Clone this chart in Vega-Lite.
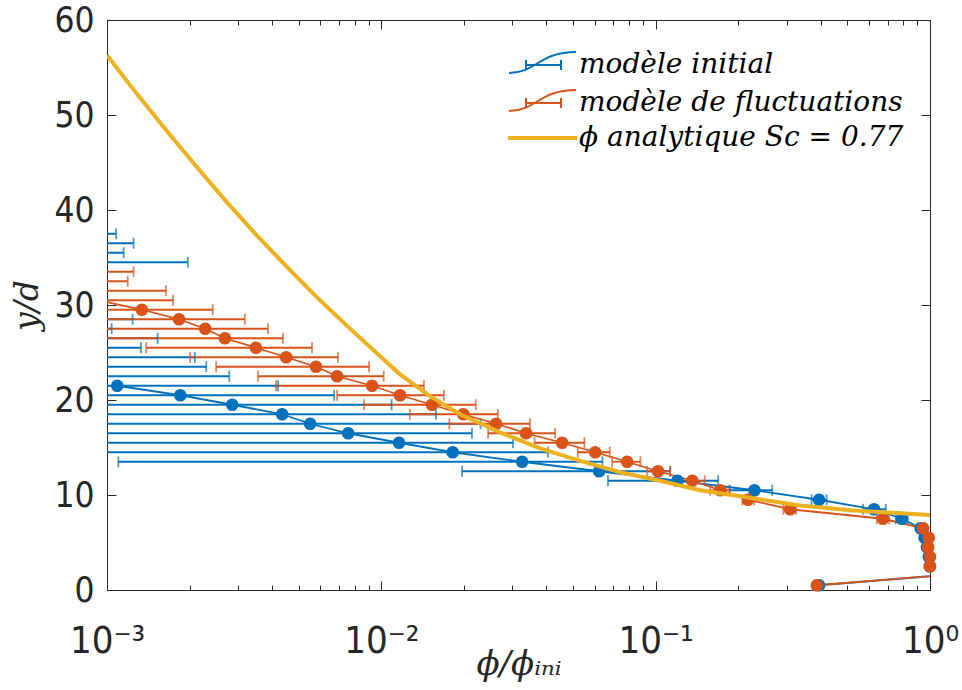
{
  "$schema": "https://vega.github.io/schema/vega-lite/v6.json",
  "width": 823,
  "height": 570,
  "autosize": {"type": "none"},
  "padding": {"left": 107, "top": 20, "right": 32, "bottom": 100},
  "background": "white",
  "config": {
    "view": {"stroke": null},
    "axis": {"grid": false, "domainColor": "#262626", "tickColor": "#262626", "labelColor": "#262626", "titleColor": "#262626", "domainWidth": 1, "tickWidth": 1, "labelFont": "Liberation Sans Narrow, DejaVu Sans Condensed, DejaVu Sans", "labelFontSize": 35}
  },
  "datasets": {
    "bars": [
      {"series": "modèle initial", "y": 37.5, "x": null, "lo": 0.0001, "hi": 0.00108},
      {"series": "modèle initial", "y": 36.5, "x": null, "lo": 0.0001, "hi": 0.00125},
      {"series": "modèle initial", "y": 35.5, "x": null, "lo": 0.0001, "hi": 0.00115},
      {"series": "modèle initial", "y": 34.5, "x": null, "lo": 0.0001, "hi": 0.00197},
      {"series": "modèle initial", "y": 28.5, "x": null, "lo": 0.0001, "hi": 0.00124},
      {"series": "modèle initial", "y": 27.5, "x": null, "lo": 0.0001, "hi": 0.00104},
      {"series": "modèle initial", "y": 26.5, "x": null, "lo": 0.0001, "hi": 0.00153},
      {"series": "modèle initial", "y": 25.5, "x": null, "lo": 0.0001, "hi": 0.00133},
      {"series": "modèle initial", "y": 24.5, "x": null, "lo": 0.0001, "hi": 0.00209},
      {"series": "modèle initial", "y": 23.5, "x": null, "lo": 0.0001, "hi": 0.0023},
      {"series": "modèle initial", "y": 22.5, "x": null, "lo": 0.0001, "hi": 0.00279},
      {"series": "modèle initial", "y": 21.5, "x": 0.00109, "lo": 0.0001, "hi": 0.0042},
      {"series": "modèle initial", "y": 20.5, "x": 0.00185, "lo": 0.0001, "hi": 0.00673},
      {"series": "modèle initial", "y": 19.5, "x": 0.00286, "lo": 0.0001, "hi": 0.0109},
      {"series": "modèle initial", "y": 18.5, "x": 0.00435, "lo": 0.0001, "hi": 0.0158},
      {"series": "modèle initial", "y": 17.5, "x": 0.0055, "lo": 0.0001, "hi": 0.023},
      {"series": "modèle initial", "y": 16.5, "x": 0.00757, "lo": 0.0001, "hi": 0.0214},
      {"series": "modèle initial", "y": 15.5, "x": 0.0116, "lo": 0.0001, "hi": 0.0302},
      {"series": "modèle initial", "y": 14.5, "x": 0.0182, "lo": 0.0001, "hi": 0.0405},
      {"series": "modèle initial", "y": 13.5, "x": 0.0326, "lo": 0.0011, "hi": 0.064},
      {"series": "modèle initial", "y": 12.5, "x": 0.0622, "lo": 0.0197, "hi": 0.113},
      {"series": "modèle initial", "y": 11.5, "x": 0.12, "lo": 0.067, "hi": 0.169},
      {"series": "modèle initial", "y": 10.5, "x": 0.229, "lo": 0.186, "hi": 0.266},
      {"series": "modèle initial", "y": 9.5, "x": 0.394, "lo": 0.37, "hi": 0.42},
      {"series": "modèle initial", "y": 8.5, "x": 0.625, "lo": 0.57, "hi": 0.69},
      {"series": "modèle initial", "y": 7.5, "x": 0.79, "lo": 0.75, "hi": 0.83},
      {"series": "modèle initial", "y": 6.5, "x": 0.925, "lo": 0.9, "hi": 0.95},
      {"series": "modèle initial", "y": 5.5, "x": 0.955, "lo": 0.94, "hi": 0.97},
      {"series": "modèle initial", "y": 4.5, "x": 0.975, "lo": 0.965, "hi": 0.985},
      {"series": "modèle initial", "y": 3.5, "x": 0.99, "lo": 0.985, "hi": 0.995},
      {"series": "modèle initial", "y": 2.5, "x": 0.998, "lo": 0.996, "hi": 1.0},
      {"series": "modèle initial", "y": 1.5, "x": 1.05, "lo": 1.04, "hi": 1.06},
      {"series": "modèle initial", "y": 0.5, "x": 0.394, "lo": 0.39, "hi": 0.4},
      {"series": "modèle de fluctuations", "y": 33.5, "x": null, "lo": 0.0001, "hi": 0.00125},
      {"series": "modèle de fluctuations", "y": 32.5, "x": null, "lo": 0.0001, "hi": 0.00119},
      {"series": "modèle de fluctuations", "y": 31.5, "x": null, "lo": 0.0001, "hi": 0.00164},
      {"series": "modèle de fluctuations", "y": 30.5, "x": 0.00093, "lo": 0.0001, "hi": 0.00174},
      {"series": "modèle de fluctuations", "y": 29.5, "x": 0.00134, "lo": 0.0001, "hi": 0.00243},
      {"series": "modèle de fluctuations", "y": 28.5, "x": 0.00183, "lo": 0.0001, "hi": 0.00318},
      {"series": "modèle de fluctuations", "y": 27.5, "x": 0.00228, "lo": 0.0001, "hi": 0.00386},
      {"series": "modèle de fluctuations", "y": 26.5, "x": 0.00269, "lo": 0.0001, "hi": 0.00438},
      {"series": "modèle de fluctuations", "y": 25.5, "x": 0.00349, "lo": 0.00139, "hi": 0.00559},
      {"series": "modèle de fluctuations", "y": 24.5, "x": 0.0045, "lo": 0.00201, "hi": 0.00695},
      {"series": "modèle de fluctuations", "y": 23.5, "x": 0.00578, "lo": 0.0025, "hi": 0.00902},
      {"series": "modèle de fluctuations", "y": 22.5, "x": 0.0069, "lo": 0.00355, "hi": 0.0102},
      {"series": "modèle de fluctuations", "y": 21.5, "x": 0.00925, "lo": 0.00413, "hi": 0.0143},
      {"series": "modèle de fluctuations", "y": 20.5, "x": 0.0117, "lo": 0.0069, "hi": 0.0169},
      {"series": "modèle de fluctuations", "y": 19.5, "x": 0.0153, "lo": 0.00865, "hi": 0.0221},
      {"series": "modèle de fluctuations", "y": 18.5, "x": 0.0199, "lo": 0.0127, "hi": 0.0266},
      {"series": "modèle de fluctuations", "y": 17.5, "x": 0.0262, "lo": 0.0177, "hi": 0.0348},
      {"series": "modèle de fluctuations", "y": 16.5, "x": 0.0337, "lo": 0.0245, "hi": 0.043},
      {"series": "modèle de fluctuations", "y": 15.5, "x": 0.0456, "lo": 0.0362, "hi": 0.055},
      {"series": "modèle de fluctuations", "y": 14.5, "x": 0.0602, "lo": 0.052, "hi": 0.068},
      {"series": "modèle de fluctuations", "y": 13.5, "x": 0.0787, "lo": 0.0694, "hi": 0.088},
      {"series": "modèle de fluctuations", "y": 12.5, "x": 0.102, "lo": 0.093, "hi": 0.113},
      {"series": "modèle de fluctuations", "y": 11.5, "x": 0.136, "lo": 0.123, "hi": 0.151},
      {"series": "modèle de fluctuations", "y": 10.5, "x": 0.172, "lo": 0.158, "hi": 0.186},
      {"series": "modèle de fluctuations", "y": 9.5, "x": 0.217, "lo": 0.207, "hi": 0.229},
      {"series": "modèle de fluctuations", "y": 8.5, "x": 0.309, "lo": 0.292, "hi": 0.325},
      {"series": "modèle de fluctuations", "y": 7.5, "x": 0.674, "lo": 0.64, "hi": 0.71},
      {"series": "modèle de fluctuations", "y": 6.5, "x": 0.944, "lo": 0.93, "hi": 0.96},
      {"series": "modèle de fluctuations", "y": 5.5, "x": 0.99, "lo": 0.985, "hi": 0.995},
      {"series": "modèle de fluctuations", "y": 4.5, "x": 0.985, "lo": 0.98, "hi": 0.99},
      {"series": "modèle de fluctuations", "y": 3.5, "x": 1.0, "lo": 0.998, "hi": 1.0},
      {"series": "modèle de fluctuations", "y": 2.5, "x": 1.0, "lo": 0.998, "hi": 1.0},
      {"series": "modèle de fluctuations", "y": 1.5, "x": 1.05, "lo": 1.04, "hi": 1.06},
      {"series": "modèle de fluctuations", "y": 0.5, "x": 0.387, "lo": 0.383, "hi": 0.391}
    ],
    "curve": [
      {"series": "ϕ analytique Sc = 0.77", "x": 0.001, "y": 56.3},
      {"series": "ϕ analytique Sc = 0.77", "x": 0.001287, "y": 52.2},
      {"series": "ϕ analytique Sc = 0.77", "x": 0.001655, "y": 48.3},
      {"series": "ϕ analytique Sc = 0.77", "x": 0.002128, "y": 44.5},
      {"series": "ϕ analytique Sc = 0.77", "x": 0.002738, "y": 40.8},
      {"series": "ϕ analytique Sc = 0.77", "x": 0.003522, "y": 37.3},
      {"series": "ϕ analytique Sc = 0.77", "x": 0.004532, "y": 34.0},
      {"series": "ϕ analytique Sc = 0.77", "x": 0.005829, "y": 30.8},
      {"series": "ϕ analytique Sc = 0.77", "x": 0.0075, "y": 27.8},
      {"series": "ϕ analytique Sc = 0.77", "x": 0.00965, "y": 24.9},
      {"series": "ϕ analytique Sc = 0.77", "x": 0.0117, "y": 22.7},
      {"series": "ϕ analytique Sc = 0.77", "x": 0.01505, "y": 20.4},
      {"series": "ϕ analytique Sc = 0.77", "x": 0.01936, "y": 18.5},
      {"series": "ϕ analytique Sc = 0.77", "x": 0.02709, "y": 16.6},
      {"series": "ϕ analytique Sc = 0.77", "x": 0.03791, "y": 14.9},
      {"series": "ϕ analytique Sc = 0.77", "x": 0.05302, "y": 13.6},
      {"series": "ϕ analytique Sc = 0.77", "x": 0.07418, "y": 12.4},
      {"series": "ϕ analytique Sc = 0.77", "x": 0.1038, "y": 11.5},
      {"series": "ϕ analytique Sc = 0.77", "x": 0.1452, "y": 10.5},
      {"series": "ϕ analytique Sc = 0.77", "x": 0.2208, "y": 9.7},
      {"series": "ϕ analytique Sc = 0.77", "x": 0.336, "y": 8.9},
      {"series": "ϕ analytique Sc = 0.77", "x": 0.5114, "y": 8.4},
      {"series": "ϕ analytique Sc = 0.77", "x": 1.0, "y": 7.9}
    ]
  },
  "resolve": {"axis": {"x": "independent", "y": "independent"}},
  "layer": [
    {
      "data": {"name": "bars"},
      "mark": {"type": "rule", "clip": true, "strokeWidth": 1.8},
      "encoding": {
        "x": {"field": "lo", "type": "quantitative", "scale": {"type": "log", "domain": [0.001, 1], "nice": false},
              "axis": {"orient": "top", "values": [0.001, 0.01, 0.1, 1], "labels": false, "tickSize": -9, "title": null}},
        "x2": {"field": "hi"},
        "y": {"field": "y", "type": "quantitative", "scale": {"domain": [0, 60], "nice": false, "zero": false},
              "axis": {"orient": "right", "values": [0, 10, 20, 30, 40, 50, 60], "labels": false, "tickSize": -9, "title": null}},
        "color": {"field": "series", "type": "nominal", "legend": null,
                  "scale": {"domain": ["ϕ analytique Sc = 0.77", "modèle initial", "modèle de fluctuations"], "range": ["#EDB120", "#0072BD", "#D95319"]}}
      }
    },
    {
      "data": {"name": "bars"},
      "mark": {"type": "tick", "clip": true, "orient": "vertical", "size": 11, "thickness": 1.8},
      "encoding": {
        "x": {"field": "lo", "type": "quantitative", "scale": {"type": "log", "domain": [0.001, 1], "nice": false},
              "axis": {"orient": "bottom", "values": [0.002, 0.003, 0.004, 0.005, 0.006, 0.007, 0.008, 0.009, 0.02, 0.03, 0.04, 0.05, 0.06, 0.07, 0.08, 0.09, 0.2, 0.3, 0.4, 0.5, 0.6, 0.7, 0.8, 0.9], "labels": false, "tickSize": -5, "domain": false, "title": null}},
        "y": {"field": "y", "type": "quantitative", "scale": {"domain": [0, 60], "nice": false, "zero": false}, "axis": null},
        "color": {"field": "series", "type": "nominal", "legend": null,
                  "scale": {"domain": ["ϕ analytique Sc = 0.77", "modèle initial", "modèle de fluctuations"], "range": ["#EDB120", "#0072BD", "#D95319"]}}
      }
    },
    {
      "data": {"name": "bars"},
      "mark": {"type": "tick", "clip": true, "orient": "vertical", "size": 11, "thickness": 1.8},
      "encoding": {
        "x": {"field": "hi", "type": "quantitative", "scale": {"type": "log", "domain": [0.001, 1], "nice": false},
              "axis": {"orient": "top", "values": [0.002, 0.003, 0.004, 0.005, 0.006, 0.007, 0.008, 0.009, 0.02, 0.03, 0.04, 0.05, 0.06, 0.07, 0.08, 0.09, 0.2, 0.3, 0.4, 0.5, 0.6, 0.7, 0.8, 0.9], "labels": false, "tickSize": -5, "domain": false, "title": null}},
        "y": {"field": "y", "type": "quantitative", "scale": {"domain": [0, 60], "nice": false, "zero": false}, "axis": null},
        "color": {"field": "series", "type": "nominal", "legend": null,
                  "scale": {"domain": ["ϕ analytique Sc = 0.77", "modèle initial", "modèle de fluctuations"], "range": ["#EDB120", "#0072BD", "#D95319"]}}
      }
    },
    {
      "data": {"name": "bars"},
      "transform": [{"filter": "datum.x != null"}],
      "mark": {"type": "line", "clip": true, "strokeWidth": 1.8},
      "encoding": {
        "x": {"field": "x", "type": "quantitative", "scale": {"type": "log", "domain": [0.001, 1], "nice": false}, "axis": null},
        "y": {"field": "y", "type": "quantitative", "scale": {"domain": [0, 60], "nice": false, "zero": false}, "axis": null},
        "order": {"field": "y", "type": "quantitative"},
        "color": {"field": "series", "type": "nominal", "legend": null,
                  "scale": {"domain": ["ϕ analytique Sc = 0.77", "modèle initial", "modèle de fluctuations"], "range": ["#EDB120", "#0072BD", "#D95319"]}}
      }
    },
    {
      "data": {"name": "bars"},
      "transform": [{"filter": "datum.x != null && datum.x >= 0.001 && datum.x <= 1"}],
      "mark": {"type": "point", "filled": true, "shape": "circle", "size": 160, "opacity": 1},
      "encoding": {
        "x": {"field": "x", "type": "quantitative", "scale": {"type": "log", "domain": [0.001, 1], "nice": false}, "axis": null},
        "y": {"field": "y", "type": "quantitative", "scale": {"domain": [0, 60], "nice": false, "zero": false}, "axis": null},
        "color": {"field": "series", "type": "nominal", "legend": null,
                  "scale": {"domain": ["ϕ analytique Sc = 0.77", "modèle initial", "modèle de fluctuations"], "range": ["#EDB120", "#0072BD", "#D95319"]}}
      }
    },
    {
      "data": {"name": "bars"},
      "transform": [{"filter": "datum.x != null && datum.x >= 0.001 && datum.x <= 1"}],
      "mark": {"type": "point", "filled": false, "opacity": 0, "size": 400, "strokeWidth": 2},
      "encoding": {
        "x": {"field": "x", "type": "quantitative", "scale": {"type": "log", "domain": [0.001, 1], "nice": false}, "axis": null},
        "y": {"field": "y", "type": "quantitative", "scale": {"domain": [0, 60], "nice": false, "zero": false}, "axis": null},
        "stroke": {"field": "series", "type": "nominal",
                  "scale": {"domain": ["modèle initial", "modèle de fluctuations", "ϕ analytique Sc = 0.77"], "range": ["#0072BD", "#D95319", "#EDB120"]},
                  "legend": {"orient": "none", "legendX": 405, "legendY": 31, "title": null, "symbolSize": 400, "symbolStrokeWidth": 2, "symbolOpacity": 1, "labelFont": "DejaVu Serif", "labelFontStyle": "italic", "labelFontSize": 28, "labelColor": "#000000", "labelOffset": 39, "labelLimit": 500, "rowPadding": 7, "padding": 0}},
        "shape": {"field": "series", "type": "nominal",
                  "scale": {"domain": ["modèle initial", "modèle de fluctuations", "ϕ analytique Sc = 0.77"], "range": ["M-1.7,0.8 C1.0,0.8 1.3,-1.3 5,-1.3 M0,-0.5 L0,0.5 M0,0 L3.5,0 M3.5,-0.5 L3.5,0.5", "M-1.7,0.8 C1.0,0.8 1.3,-1.3 5,-1.3 M0,-0.5 L0,0.5 M0,0 L3.5,0 M3.5,-0.5 L3.5,0.5", "M-1.7,-0.1 L5,-0.1 L5,0.1 L-1.7,0.1 Z"]},
                  "legend": {"orient": "none", "legendX": 405, "legendY": 31, "title": null, "symbolSize": 400, "symbolStrokeWidth": 2, "symbolOpacity": 1, "labelFont": "DejaVu Serif", "labelFontStyle": "italic", "labelFontSize": 28, "labelColor": "#000000", "labelOffset": 39, "labelLimit": 500, "rowPadding": 7, "padding": 0}}
      }
    },
    {
      "data": {"name": "curve"},
      "mark": {"type": "line", "clip": true, "strokeWidth": 4},
      "encoding": {
        "x": {"field": "x", "type": "quantitative", "scale": {"type": "log", "domain": [0.001, 1], "nice": false},
              "axis": {"orient": "bottom", "values": [0.001, 0.01, 0.1, 1], "tickSize": -9, "labelPadding": 41, "labelFontSize": 38, "labelFlush": false,
                       "labelExpr": "datum.value < 0.005 ? '10⁻³' : datum.value < 0.05 ? '10⁻²' : datum.value < 0.5 ? '10⁻¹' : '10⁰'",
                       "title": "ϕ/ϕᵢₙᵢ", "titleFont": "DejaVu Serif", "titleFontStyle": "italic", "titleFontWeight": "normal", "titleFontSize": 34, "titleY": 84, "titleBaseline": "alphabetic"}},
        "y": {"field": "y", "type": "quantitative", "scale": {"domain": [0, 60], "nice": false, "zero": false},
              "axis": {"orient": "left", "values": [0, 10, 20, 30, 40, 50, 60], "tickSize": -9, "labelPadding": 22,
                       "title": "y/d", "titleFont": "DejaVu Serif", "titleFontStyle": "italic", "titleFontWeight": "normal", "titleFontSize": 33, "titlePadding": 9}},
        "order": {"field": "x", "type": "quantitative"},
        "color": {"field": "series", "type": "nominal", "legend": null,
                  "scale": {"domain": ["ϕ analytique Sc = 0.77", "modèle initial", "modèle de fluctuations"], "range": ["#EDB120", "#0072BD", "#D95319"]}}
      }
    }
  ]
}
